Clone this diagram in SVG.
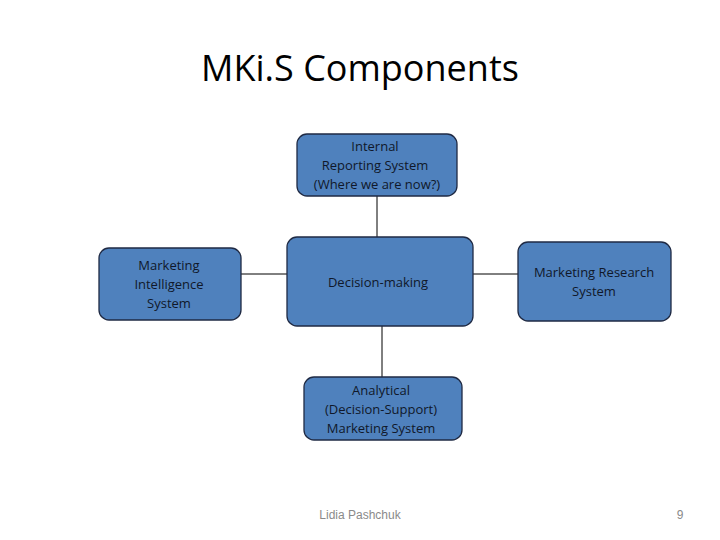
<svg xmlns="http://www.w3.org/2000/svg" width="720" height="540" viewBox="0 0 720 540">
<style>
.n{fill:#4f81bd;stroke:#1f2a44;stroke-width:1.3}
.t{font-family:"Open Sans","Liberation Sans",sans-serif;font-size:13px;fill:#10182a;text-anchor:middle}
.c{stroke:#000;stroke-width:1;fill:none}
</style>
<rect width="720" height="540" fill="#fff"/>
<text x="360" y="81" font-family="Open Sans, Liberation Sans, sans-serif" font-size="36" text-anchor="middle" fill="#000">MKi.S Components</text>
<g id="connectors">
<line class="c" x1="377" y1="196" x2="377" y2="237"/>
<line class="c" x1="241" y1="274" x2="287" y2="274"/>
<line class="c" x1="473" y1="274" x2="518" y2="274"/>
<line class="c" x1="382" y1="326" x2="382" y2="377"/>
</g>
<g id="internal"><rect class="n" x="297" y="134" width="160" height="62" rx="10"/>
<text class="t" x="375" y="151">Internal</text><text class="t" x="375" y="170">Reporting System</text><text class="t" x="377" y="189">(Where we are now?)</text></g>
<g id="decision"><rect class="n" x="287" y="237" width="186" height="89" rx="10"/>
<text class="t" x="378" y="287" font-size="15">Decision-making</text></g>
<g id="intelligence"><rect class="n" x="99" y="248" width="142" height="72" rx="10"/>
<text class="t" x="169" y="270">Marketing</text><text class="t" x="169" y="289">Intelligence</text><text class="t" x="169" y="308">System</text></g>
<g id="research"><rect class="n" x="518" y="242" width="153" height="79" rx="10"/>
<text class="t" x="594" y="277">Marketing Research</text><text class="t" x="594" y="296">System</text></g>
<g id="analytical"><rect class="n" x="304" y="377" width="158" height="63" rx="10"/>
<text class="t" x="381" y="395">Analytical</text><text class="t" x="381" y="414">(Decision-Support)</text><text class="t" x="381" y="433">Marketing System</text></g>
<text x="360" y="519" font-family="Liberation Sans, sans-serif" font-size="12" fill="#8a8a8a" text-anchor="middle">Lidia Pashchuk</text>
<text x="680" y="519" font-family="Liberation Sans, sans-serif" font-size="12" fill="#8a8a8a" text-anchor="middle">9</text>
</svg>
